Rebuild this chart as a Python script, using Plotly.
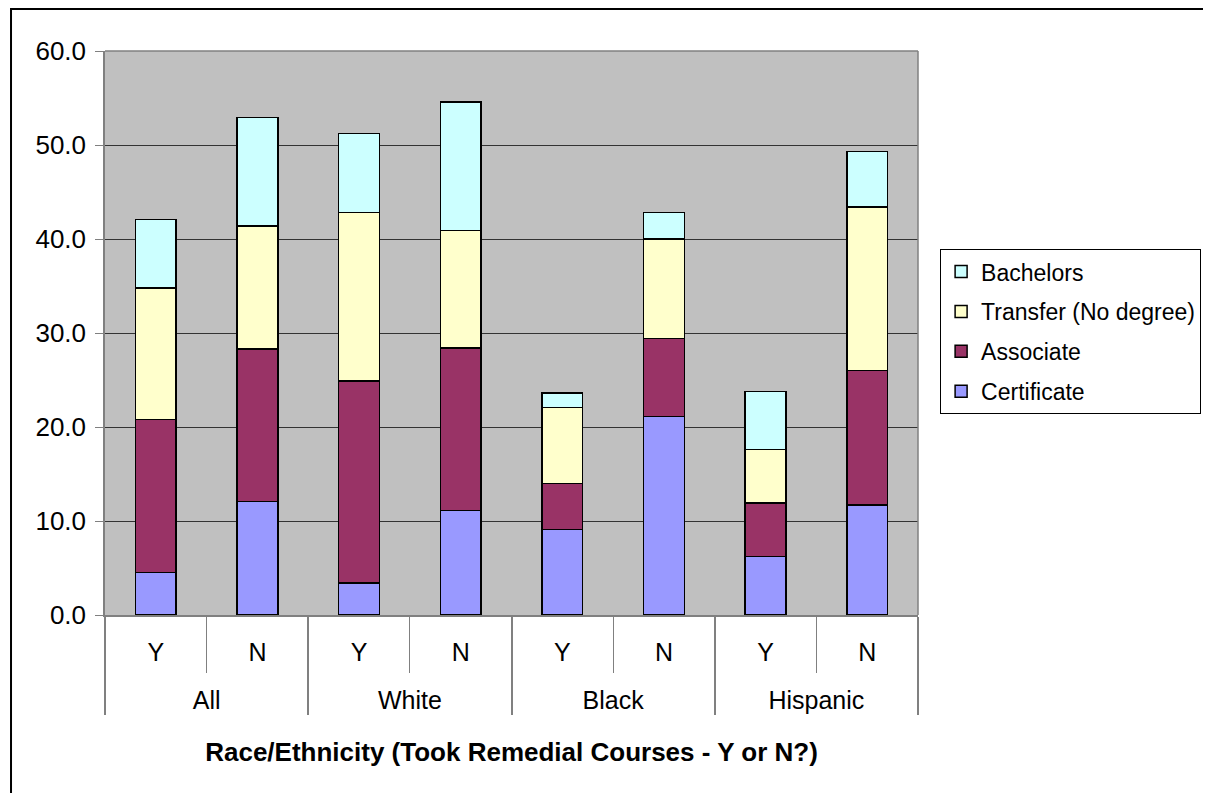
import plotly.graph_objects as go

groups = ["All", "All", "White", "White", "Black", "Black", "Hispanic", "Hispanic"]
remedial = ["Y", "N", "Y", "N", "Y", "N", "Y", "N"]

certificate = [4.5, 12.1, 3.4, 11.1, 9.1, 21.1, 6.2, 11.7]
associate = [16.3, 16.2, 21.5, 17.3, 4.9, 8.3, 5.7, 14.3]
transfer = [14.0, 13.1, 17.9, 12.5, 8.1, 10.6, 5.7, 17.4]
bachelors = [7.3, 11.5, 8.4, 13.7, 1.5, 2.8, 6.2, 5.9]

series = [
    ("Certificate", certificate, "#9999FF"),
    ("Associate", associate, "#993366"),
    ("Transfer (No degree)", transfer, "#FFFFCC"),
    ("Bachelors", bachelors, "#CCFFFF"),
]

# push group labels one line lower, like the excel layout
group_labels = ["<br>" + g for g in groups]

fig = go.Figure()
for i, (name, vals, col) in enumerate(series):
    fig.add_trace(go.Bar(x=[group_labels, remedial], y=vals, name=name, legendgroup=name,
                         legendrank=1000 - i,
                         marker=dict(color=col, line=dict(color="black", width=1.5))))

# page body adds 8px offset, so margins are shifted by 8
fig.update_layout(
    barmode="stack",
    bargap=0.6,
    width=1211, height=793,
    margin=dict(l=97, r=301, t=43, b=186),
    paper_bgcolor="white",
    plot_bgcolor="#C0C0C0",
    font=dict(family="Liberation Sans, Arial", size=25, color="black"),
    showlegend=True,
    legend=dict(xref="container", yref="container", x=0.7697, xanchor="left",
                y=0.696, yanchor="top",
                traceorder="grouped", bordercolor="black", borderwidth=1,
                bgcolor="white", font=dict(size=23), tracegroupgap=7,
                entrywidth=240),
)

# outer chart frame
fig.add_shape(type="rect", xref="paper", yref="paper",
              x0=-0.1156, x1=1.5, y0=-0.5, y1=1.0745,
              line=dict(color="black", width=2), fillcolor="rgba(0,0,0,0)", layer="below")

fig.update_yaxes(range=[0, 60], dtick=10, tickformat=".1f",
                 showgrid=True, gridcolor="#333333", gridwidth=1,
                 showline=True, linecolor="#808080", linewidth=1.5,
                 ticks="outside", ticklen=8, tickcolor="#808080",
                 tickfont=dict(size=26), ticklabelstandoff=4,
                 zeroline=False, mirror=False)
fig.update_xaxes(type="multicategory", showline=True, linecolor="#808080", linewidth=1.5,
                 ticks="outside", ticklen=56, tickcolor="#808080",
                 ticklabelstandoff=14,
                 showdividers=True, dividercolor="#808080", dividerwidth=1.5,
                 title=dict(text="<b>Race/Ethnicity (Took Remedial Courses - Y or N?)</b>",
                            font=dict(size=26), standoff=30))

# top/right border of plot area
fig.add_shape(type="line", xref="paper", yref="paper", x0=0, x1=1, y0=1, y1=1,
              line=dict(color="#808080", width=1.5))
fig.add_shape(type="line", xref="paper", yref="paper", x0=1, x1=1, y0=0, y1=1,
              line=dict(color="#808080", width=1.5))

fig.write_html("out.html")
